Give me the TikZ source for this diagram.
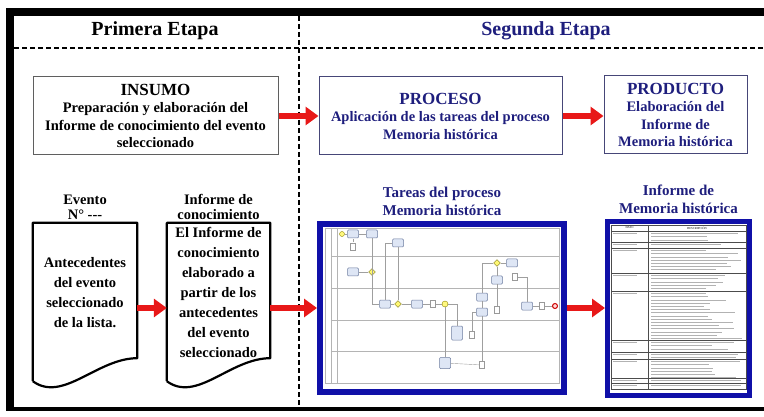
\documentclass[tikz,border=0pt]{standalone}
\usepackage{fontspec}
\setmainfont{Liberation Serif}
\usepackage{xcolor}
\usetikzlibrary{arrows.meta,shapes.geometric,calc}
\definecolor{navytext}{RGB}{30,30,125}
\definecolor{frameblue}{RGB}{16,16,168}
\definecolor{arrowred}{RGB}{232,24,24}
\definecolor{boxgray}{RGB}{95,95,95}
\definecolor{boxnavy}{RGB}{70,70,120}
\definecolor{lanegray}{RGB}{180,180,180}
\definecolor{taskfill}{RGB}{222,230,245}
\definecolor{taskline}{RGB}{110,125,160}
\newcommand{\etapafont}{\fontsize{20}{24}\selectfont\bfseries}
\newcommand{\headfont}{\fontsize{17}{19}\selectfont\bfseries}
\newcommand{\txtfont}{\fontsize{14.5}{17.5}\selectfont\bfseries}
\newcommand{\titfont}{\fontsize{15}{18}\selectfont\bfseries}

\begin{document}
\begin{tikzpicture}[x=1pt, y=-1pt,
    etapa/.style={font=\etapafont, inner sep=0pt},
    stagebox/.style={draw, line width=1pt, align=center, inner sep=0pt, font=\txtfont},
    redarrow/.style={draw=arrowred, line width=6.5pt, -{Triangle[length=13pt, width=18pt]}},
    dashline/.style={line width=2pt, dash pattern=on 5pt off 3pt},
    docbox/.style={minimum width=104pt, minimum height=158pt, inner sep=0pt},
    docline/.style={line width=2.2pt, line join=round},
    doctext/.style={align=center, font=\txtfont, text depth=0pt, inner sep=0pt},
    caption/.style={align=center, font=\fontsize{14.5}{15}\selectfont\bfseries, inner sep=0pt, anchor=south},
    pictitle/.style={align=center, font=\titfont, text=navytext, inner sep=0pt, anchor=south},
    picframe/.style={draw=frameblue, fill=white, inner sep=0pt},
    lane/.style={draw=lanegray, line width=0.5pt},
    task/.style={draw=taskline, fill=taskfill, rounded corners=1pt, minimum width=11pt, minimum height=8pt, inner sep=0pt, line width=0.5pt},
    dataobj/.style={draw=gray!80, fill=white, minimum width=5pt, minimum height=7pt, inner sep=0pt, line width=0.4pt},
    gate/.style={diamond, draw=olive!80!black, fill=yellow!55, minimum size=7pt, inner sep=0pt, line width=0.4pt},
    evstart/.style={circle, draw=olive, fill=yellow!50, minimum size=5pt, inner sep=0pt},
    evend/.style={circle, draw=red!80!black, line width=1pt, fill=red!15, minimum size=5pt, inner sep=0pt},
    flow/.style={draw=gray!75, line width=0.4pt},
    rowline/.style={draw=black!70, line width=0.5pt},
    txtline/.style={draw=gray!60, line width=0.9pt}
]
    \useasboundingbox (0,0) rectangle (764,417);
    % frame
    \fill[black] (6,8) rectangle (764,16);
    \fill[black] (6,8) rectangle (14,411);
    \fill[black] (6,407) rectangle (764,411);
    \draw[dashline] (14,48) -- (764,48);
    \draw[dashline] (299,16) -- (299,407);
    \node[etapa] (primera) at (155,31) {Primera Etapa};
    \node[etapa, text=navytext] (segunda) at (546,31) {Segunda Etapa};

    % top row
    \node[stagebox, draw=boxgray, minimum width=245pt, minimum height=78pt] (insumo) at (155.5,116)
        {{\headfont INSUMO}\\Preparación y elaboración del\\Informe de conocimiento del evento\\seleccionado};
    \node[stagebox, draw=boxnavy, text=navytext, minimum width=243pt, minimum height=78pt] (proceso) at (440.5,116)
        {{\headfont PROCESO}\\Aplicación de las tareas del proceso\\Memoria histórica};
    \node[stagebox, draw=boxnavy, text=navytext, minimum width=143pt, minimum height=78pt] (producto) at (675.5,115)
        {{\headfont PRODUCTO}\\Elaboración del\\Informe de\\Memoria histórica};

    % documents
    \node[docbox] (evento) at (85,302) {};
    \node[docbox, minimum width=103pt] (informe) at (218.5,302) {};
    \foreach \d in {evento, informe} {
        \draw[docline] (\d.south west) -- (\d.north west) -- (\d.north east) -- ($(\d.south east)+(0,-23)$)
            .. controls +(-40,0) and +(30,22) .. (\d.south west);
    }
    \node[caption] (eventocap) at ($(evento.north)+(0,-3)$) {Evento\\N° -{}-{}-};
    \node[caption] (informecap) at ($(informe.north)+(0,-3)$) {Informe de\\conocimiento};
    \node[doctext, font=\fontsize{14.5}{20}\selectfont\bfseries] (eventotxt) at (85,292)
        {Antecedentes\\del evento\\seleccionado\\de la lista.};
    \node[doctext, font=\fontsize{14.5}{20}\selectfont\bfseries] (informetxt) at (218.5,292)
        {El Informe de\\conocimiento\\elaborado a\\partir de los\\antecedentes\\del evento\\seleccionado};

    % process picture
    \node[picframe, line width=6pt, minimum width=244pt, minimum height=168pt] (tareas) at (442,308) {};
    \node[pictitle] (tareastit) at ($(tareas.north)+(0,-5)$) {Tareas del proceso\\Memoria histórica};
    \draw[lane] (325,228) rectangle (559,383);
    \draw[lane] (331,228) -- (331,383);
    \draw[lane] (337,228) -- (337,383);
    \foreach \y in {256,288,320,351} {
        \draw[lane] (331,\y) -- (559,\y);
    }
    \node[evstart] (bs) at (342,234) {};
    \node[task] (b1) at (353,234) {};
    \node[task] (b2) at (372,234) {};
    \node[dataobj] (bd1) at (353,247) {};
    \node[task] (b3) at (398,243) {};
    \node[task] (b4) at (353,272) {};
    \node[gate] (bg1) at (372,272) {};
    \node[task] (b5) at (385,304) {};
    \node[gate] (bg2) at (398,304) {};
    \node[task] (b6) at (417,304) {};
    \node[dataobj] (bd2) at (433,304) {};
    \node[evstart, minimum size=6pt] (bg3) at (445,304) {};
    \node[task, minimum height=14pt] (b7) at (457,333) {};
    \node[dataobj] (bd3) at (472,335) {};
    \node[task, minimum height=11pt] (b8) at (445,363) {};
    \node[dataobj] (bd4) at (482,365) {};
    \node[task] (b9) at (482,297) {};
    \node[task] (b10) at (482,312) {};
    \node[dataobj] (bd5) at (497,310) {};
    \node[task] (b11) at (497,280) {};
    \node[gate] (bg4) at (497,263) {};
    \node[task] (b12) at (512,263) {};
    \node[dataobj] (bd6) at (515,277) {};
    \node[task] (b13) at (527,306) {};
    \node[dataobj] (bd7) at (542,306) {};
    \node[evend] (be) at (555,306) {};
    \draw[flow] (bs) -- (b1);
    \draw[flow] (b1) -- (b2);
    \draw[flow] (b2) |- (b5);
    \draw[flow, densely dotted] (bd1) -- (b1);
    \draw[flow] (b4) -- (bg1);
    \draw[flow] (b3) -| (b5);
    \draw[flow] (b3) -- (bg2);
    \draw[flow] (b5) -- (bg2) -- (b6) -- (bd2) -- (bg3);
    \draw[flow] (bg3) -| (b7);
    \draw[flow] (bg3) -- (b8);
    \draw[flow] (b8) -- (bd4);
    \draw[flow] (bd3) |- (b10);
    \draw[flow] (b10) -- (bd4);
    \draw[flow] (b9) -- (b10);
    \draw[flow] (b9) |- (bg4);
    \draw[flow] (bg4) -- (b12);
    \draw[flow] (bg4) -- (b11) -- (bd5);
    \draw[flow] (bd6) -| (b13);
    \draw[flow] (b13) -- (bd7) -- (be);

    % table picture
    \node[picframe, line width=5pt, minimum width=142pt, minimum height=174pt] (tabla) at (678.5,308.5) {};
    \node[pictitle] (tablatit) at ($(tabla.north)+(0,-5)$) {Informe de\\Memoria histórica};
    \draw[rowline] (611,225) rectangle (746,389);
    \draw[rowline] (648,225) -- (648,389);
    \node[inner sep=0pt, font=\fontsize{3}{3}\selectfont] (hdato) at (629.5,228) {DATO};
    \node[inner sep=0pt, font=\fontsize{3}{3}\selectfont] (hdesc) at (697,228) {DESCRIPCIÓN};
    \pgfmathsetseed{7}
    \foreach \ya/\yb in {231/242, 242/248, 248/273, 273/291, 291/340, 340/352, 352/359, 359/378, 378/383, 383/389} {
        \draw[rowline] (611,\ya) -- (746,\ya);
        \draw[txtline] (613,\ya+2.6) -- ++(24,0);
        \pgfmathtruncatemacro{\nl}{(\yb-\ya-3)/3.2}
        \foreach \k in {0,...,\nl} {
            \pgfmathsetmacro{\tl}{50+42*rnd}
            \draw[txtline] (651,\ya+2.6+3.2*\k) -- ++(\tl,0);
        }
    }

    % arrows
    \draw[redarrow] (insumo.east) -- (proceso.west);
    \draw[redarrow] (proceso.east) -- (producto.west |- proceso.east);
    \draw[redarrow] (evento.east |- tareas.west) -- (informe.west |- tareas.west);
    \draw[redarrow] (informe.east |- tareas.west) -- (tareas.west);
    \draw[redarrow] (tareas.east) -- (tabla.west |- tareas.east);
\end{tikzpicture}
\end{document}
